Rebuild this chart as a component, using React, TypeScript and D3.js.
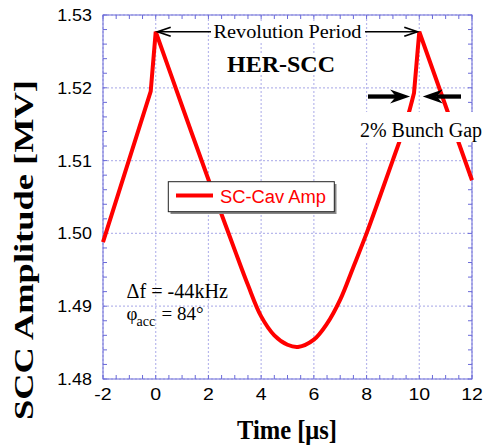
import React from "react";
import * as d3 from "d3";

// Curve: linear ramp before the gap, steep jump across the 2% gap,
// smooth decay/recovery between the two peaks.
const rampTime = [-2, -0.19, 0];
const rampAmp = [1.4988, 1.5195, 1.5277];
const mainTime = [0, 1.0, 2.0, 2.5, 3.0, 3.5, 4.0, 4.5, 5.0, 5.4, 6.0, 6.5, 7.0, 7.5, 8.0, 8.5, 9.0, 9.5, 9.8];
const mainAmp = [1.5277, 1.5175, 1.5074, 1.5026, 1.4977, 1.4929, 1.4886, 1.4860, 1.4847, 1.4844, 1.4854, 1.4876, 1.4909, 1.4954, 1.5, 1.5050, 1.5101, 1.5153, 1.5193];
const tailTime = [9.8, 10, 12];
const tailAmp = [1.5193, 1.5277, 1.5073];
const xTicks = [-2, 0, 2, 4, 6, 8, 10, 12];
const yTicks = [1.48, 1.49, 1.5, 1.51, 1.52, 1.53];
const seriesName = "SC-Cav Amp";

const W = 485, H = 448;
const L = 103, R = 472, T = 15, B = 379;
const serif = "'Liberation Serif', 'Times New Roman', serif";
const sans = "'Liberation Sans', Arial, sans-serif";

type P = [number, number];

export default function App() {
  const x = d3.scaleLinear().domain([-2, 12]).range([L, R]);
  const y = d3.scaleLinear().domain([1.48, 1.53]).range([B, T]);
  const toPts = (ts: number[], vs: number[]) => ts.map((t, i) => [t, vs[i]] as P);
  const lin = d3.line<P>().x(d => x(d[0])).y(d => y(d[1])).curve(d3.curveLinear);
  const smooth = d3.line<P>().x(d => x(d[0])).y(d => y(d[1])).curve(d3.curveCatmullRom.alpha(0.5));
  const d1 = lin(toPts(rampTime, rampAmp)) || "";
  const d2 = (smooth(toPts(mainTime, mainAmp)) || "").replace(/^M/, "L");
  const d3p = (lin(toPts(tailTime, tailAmp)) || "").replace(/^M/, "L");
  const curveD = d1 + d2 + d3p;

  const xMinor = d3.range(-2, 12.001, 0.5);
  const yMinor = d3.range(0, 26).map(i => 1.48 + i * 0.002);
  const gridColor = "#b8b8ec";
  const frameColor = "#6a6ad8";

  const arrY = y(1.5277);
  const gapY = y(1.5188);
  const lTip = x(9.65), rTip = x(10.13);

  const headOpen = (tx: number, ty: number, dir: number) =>
    `M${tx + dir * 13},${ty - 4.5} L${tx},${ty} L${tx + dir * 13},${ty + 4.5}`;
  const headFilled = (tx: number, ty: number, dir: number) =>
    `M${tx},${ty} L${tx + dir * 20},${ty - 7} L${tx + dir * 14},${ty} L${tx + dir * 20},${ty + 7} Z`;

  return (
    <svg width={W} height={H} style={{ position: "absolute", left: 0, top: 0 }}>
      <rect width={W} height={H} fill="#fff" />
      {xTicks.map(t => (
        <line key={"gx" + t} x1={x(t)} x2={x(t)} y1={T} y2={B} stroke={gridColor} strokeWidth={1.2} strokeDasharray="2,2" />
      ))}
      {yTicks.map(t => (
        <line key={"gy" + t} x1={L} x2={R} y1={y(t)} y2={y(t)} stroke={gridColor} strokeWidth={1.2} strokeDasharray="2,2" />
      ))}
      {xMinor.map((t, i) => (
        <g key={"xm" + i}>
          <line x1={x(t)} x2={x(t)} y1={B} y2={B - 4} stroke={frameColor} strokeWidth={1} />
          <line x1={x(t)} x2={x(t)} y1={T} y2={T + 4} stroke={frameColor} strokeWidth={1} />
        </g>
      ))}
      {yMinor.map((t, i) => (
        <g key={"ym" + i}>
          <line x1={L} x2={L + 4} y1={y(t)} y2={y(t)} stroke={frameColor} strokeWidth={1} />
          <line x1={R} x2={R - 4} y1={y(t)} y2={y(t)} stroke={frameColor} strokeWidth={1} />
        </g>
      ))}
      <rect x={L} y={T} width={R - L} height={B - T} fill="none" stroke={frameColor} strokeWidth={1} />

      {yTicks.map(t => (
        <text key={"yl" + t} transform={`translate(${L - 11},${y(t) + 6}) scale(1.12,1)`} textAnchor="end"
          fontFamily={sans} fontSize={16} fill="#000">{t.toFixed(2)}</text>
      ))}
      {xTicks.map(t => (
        <text key={"xl" + t} transform={`translate(${x(t)},${400}) scale(1.22,1)`} textAnchor="middle"
          fontFamily={sans} fontSize={16} fill="#000">{t}</text>
      ))}

      <text transform={`translate(33,250) rotate(-90)`} textAnchor="middle" fontFamily={serif} fontWeight="bold"
        fontSize={28} textLength={340} lengthAdjust="spacingAndGlyphs">SCC Amplitude [MV]</text>
      <text x={287} y={439} textAnchor="middle" fontFamily={serif} fontWeight="bold" fontSize={27}
        textLength={100} lengthAdjust="spacingAndGlyphs">Time [μs]</text>

      <rect x={212} y={23} width={151} height={20} fill="#fff" />
      <rect x={226} y={53} width={110} height={21} fill="#fff" />

      <path d={curveD} fill="none" stroke="#ff0000" strokeWidth={4} strokeLinejoin="miter" />

      <line x1={211} x2={x(0) + 2} y1={arrY} y2={arrY} stroke="#000" strokeWidth={1.5} />
      <path d={headOpen(x(0) + 2, arrY, 1)} fill="none" stroke="#000" strokeWidth={1.8} />
      <line x1={365} x2={x(10) - 2} y1={arrY} y2={arrY} stroke="#000" strokeWidth={1.5} />
      <path d={headOpen(x(10) - 2, arrY, -1)} fill="none" stroke="#000" strokeWidth={1.8} />
      <text x={287.5} y={38} textAnchor="middle" fontFamily={serif} fontSize={19} textLength={148}
        lengthAdjust="spacingAndGlyphs">Revolution Period</text>
      <text x={281} y={71.5} textAnchor="middle" fontFamily={serif} fontWeight="bold" fontSize={24}
        textLength={108} lengthAdjust="spacingAndGlyphs">HER-SCC</text>

      <line x1={368} x2={lTip - 14} y1={gapY} y2={gapY} stroke="#000" strokeWidth={4.3} />
      <path d={headFilled(lTip, gapY, -1)} fill="#000" />
      <line x1={461} x2={rTip + 14} y1={gapY} y2={gapY} stroke="#000" strokeWidth={4.3} />
      <path d={headFilled(rTip, gapY, 1)} fill="#000" />
      <rect x={357} y={112} width={126} height={30} fill="#fff" />
      <text x={360} y={136.5} fontFamily={serif} fontSize={20} textLength={122}
        lengthAdjust="spacingAndGlyphs">2% Bunch Gap</text>

      <rect x={170.5} y={184} width={166} height={30} fill="#888" />
      <rect x={168.3} y={181.7} width={166} height={30} fill="#fff" stroke="#222" strokeWidth={1} />
      <line x1={176} x2={213} y1={195.5} y2={195.5} stroke="#ff0000" strokeWidth={4} />
      <text x={220} y={202.5} fontFamily={sans} fontSize={18} fill="#ff0000" textLength={106}
        lengthAdjust="spacingAndGlyphs">{seriesName}</text>

      <text x={126.5} y={298} fontFamily={serif} fontSize={20} textLength={101.5}
        lengthAdjust="spacingAndGlyphs">Δf = -44kHz</text>
      <text y={319.5} fontFamily={serif} fontSize={19}>
        <tspan x={126.5}>φ</tspan>
        <tspan x={136.5} dy={6} fontSize={14}>acc</tspan>
        <tspan x={161.5} dy={-6}>= 84°</tspan>
      </text>
    </svg>
  );
}
